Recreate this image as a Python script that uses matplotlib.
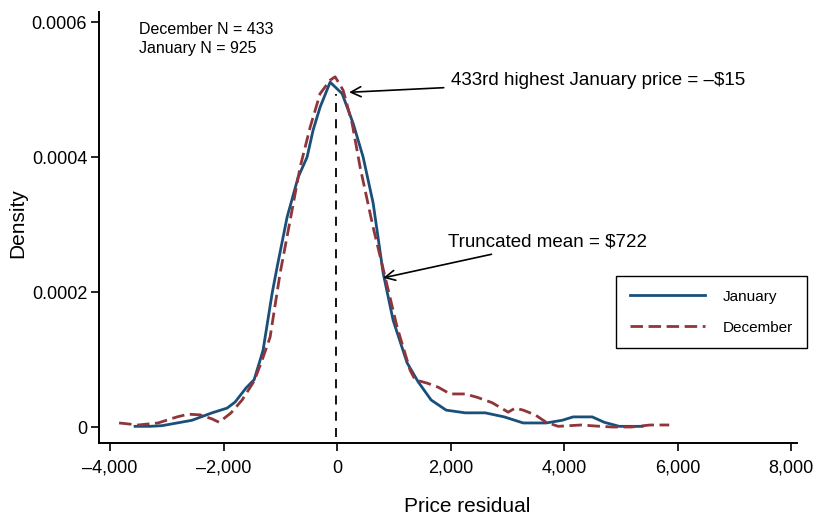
import numpy as np
import matplotlib
matplotlib.use("Agg")
from matplotlib import pyplot as plt
from matplotlib.ticker import FuncFormatter

plt.rcParams['font.family'] = ['Liberation Sans', 'DejaVu Sans']

# January price residual density (density in 1e-6)
jan_x = [-3559, -3295, -3084, -2819, -2555, -2203, -1938, -1797, -1603, -1462,
         -1357, -1304, -1145, -1057, -881, -687, -529, -423, -300, -123,
         88, 282, 458, 634, 811, 987, 1233, 1427, 1656, 1921,
         2255, 2608, 2943, 3277, 3683, 3965, 4158, 4493, 4705, 4969, 5374]
jan_y = [1, 1, 2, 6, 10, 21, 28, 37, 58, 70,
         99, 114, 198, 237, 311, 370, 400, 440, 474, 511,
         494, 450, 400, 332, 228, 158, 95, 67, 40, 25,
         21, 21, 15, 6, 6, 10, 15, 15, 7, 1, 1]

# December price residual density
dec_x = [-3841, -3506, -3154, -2819, -2625, -2414, -2203, -2079, -1868, -1674,
         -1462, -1322, -1181, -1004, -828, -652, -476, -300, -123, -35,
         106, 264, 405, 634, 846, 1057, 1286, 1374, 1586, 1780,
         1991, 2255, 2467, 2731, 3013, 3136, 3277, 3489, 3683, 3894,
         4299, 4634, 4846, 5180, 5515, 5850]
dec_y = [6, 3, 6, 15, 19, 18, 12, 7, 21, 40,
         68, 99, 133, 228, 306, 385, 444, 494, 514, 519,
         499, 450, 385, 296, 222, 148, 84, 70, 65, 59,
         49, 49, 44, 36, 22, 28, 25, 18, 7, 1,
         3, 1, 0, 0, 3, 3]

jan_y = np.array(jan_y) * 1e-6
dec_y = np.array(dec_y) * 1e-6

cutoff = -15
truncated_mean = 722

blue = '#1a4f7a'
red = '#90353b'

fig = plt.figure(figsize=(8.17, 5.15), dpi=100)
ax = fig.add_axes([0.1212, 0.1398, 0.8543, 0.8369])

ax.plot(jan_x, jan_y, color=blue, lw=2.0, label='January')
ax.plot(dec_x, dec_y, color=red, lw=2.0, ls=(0, (4.5, 2)), label='December')
ax.plot([cutoff, cutoff], [-0.000015, 0.000494], color='black', lw=1.3, ls=(0, (5, 4)))

ax.set_xlim(-4194, 8100)
ax.set_ylim(-0.0000237, 0.000615)
ax.set_xticks([-4000, -2000, 0, 2000, 4000, 6000, 8000])
ax.set_yticks([0, 0.0002, 0.0004, 0.0006])
ax.xaxis.set_major_formatter(FuncFormatter(lambda v, p: '{:,.0f}'.format(v).replace('-', '\u2013')))
ax.yaxis.set_major_formatter(FuncFormatter(lambda v, p: '0' if v == 0 else '{:.4f}'.format(v)))
ax.tick_params(direction='out', length=6, width=1.2, labelsize=13)
ax.tick_params(axis='x', pad=6)
ax.tick_params(axis='y', pad=2.5)
ax.spines['top'].set_visible(False)
ax.spines['right'].set_visible(False)
ax.spines['left'].set_linewidth(1.4)
ax.spines['bottom'].set_linewidth(1.4)

ax.set_xlabel('Price residual', fontsize=15)
ax.set_ylabel('Density', fontsize=15)
ax.xaxis.set_label_coords(0.527, -0.125)
ax.yaxis.set_label_coords(-0.103, 0.51)

ax.text(0.057, 0.977, 'December N = 433\nJanuary N = 925', transform=ax.transAxes,
        fontsize=11.5, va='top', ha='left', linespacing=1.3)

ax.annotate('433rd highest January price = \u2013$15', xy=(211, 0.000496),
            xytext=(2000, 0.000514), fontsize=13.5, ha='left', va='center',
            arrowprops=dict(arrowstyle='->', color='black', lw=1.2, mutation_scale=18,
                            shrinkA=3, shrinkB=0))
ax.annotate('Truncated mean = $722', xy=(811, 0.000221),
            xytext=(1950, 0.000274), fontsize=13.5, ha='left', va='center',
            arrowprops=dict(arrowstyle='->', color='black', lw=1.2, mutation_scale=18,
                            shrinkA=3, shrinkB=0))

leg = ax.legend(loc='upper left', bbox_to_anchor=(0.7407, 0.3875), fontsize=11,
                handlelength=4.9, labelspacing=1.1, borderpad=0.9, handletextpad=1.2,
                borderaxespad=0, fancybox=False, framealpha=1, edgecolor='black')
leg.get_frame().set_linewidth(1.0)

fig.savefig('out.png', dpi=100)
